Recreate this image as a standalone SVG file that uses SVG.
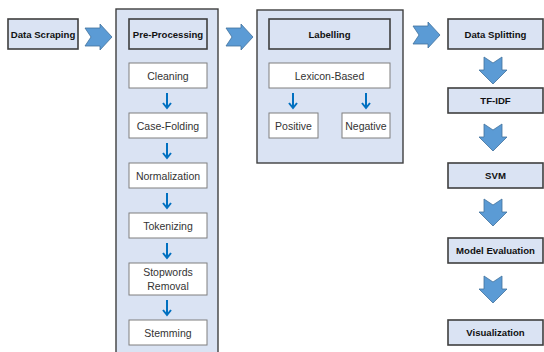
<svg xmlns="http://www.w3.org/2000/svg" width="544" height="352" viewBox="0 0 544 352">
<style>
.bg{fill:#ffffff}
.main{fill:#dae3f3;stroke:#3f3f3f;stroke-width:1.6}
.panel{fill:#dae3f3;stroke:#3f3f3f;stroke-width:1.4}
.sub{fill:#ffffff;stroke:#7f7f7f;stroke-width:1}
.b{font-family:"Liberation Sans",Arial,sans-serif;font-weight:bold;font-size:9.6px;fill:#111;text-anchor:middle;dominant-baseline:central}
.t{font-family:"Liberation Sans",Arial,sans-serif;font-size:10.5px;fill:#333;text-anchor:middle;dominant-baseline:central}
.big{fill:#5b9bd5;stroke:#41719c;stroke-width:0.8}
.small{fill:none;stroke:#0070c0;stroke-width:2}
</style>
<rect class="bg" width="544" height="352"/>
<g id="data-scraping"><rect class="main" x="8" y="19" width="70" height="30"/><text class="b" x="43" y="34">Data Scraping</text></g>
<g id="pre-processing-panel"><rect class="panel" x="116" y="9" width="102" height="350"/></g>
<g id="pre-processing"><rect class="main" x="129" y="19" width="78" height="30"/><text class="b" x="168" y="34">Pre-Processing</text></g>
<g id="cleaning"><rect class="sub" x="129" y="63" width="78" height="25"/><text class="t" x="168" y="75.5">Cleaning</text></g>
<g id="case-folding"><rect class="sub" x="129" y="113" width="78" height="25"/><text class="t" x="168" y="125.5">Case-Folding</text></g>
<g id="normalization"><rect class="sub" x="129" y="163" width="78" height="25"/><text class="t" x="168" y="175.5">Normalization</text></g>
<g id="tokenizing"><rect class="sub" x="129" y="213" width="78" height="25"/><text class="t" x="168" y="225.5">Tokenizing</text></g>
<g id="stopwords-removal"><rect class="sub" x="129" y="263" width="78" height="32"/><text class="t" x="168" y="272">Stopwords</text><text class="t" x="168" y="286">Removal</text></g>
<g id="stemming"><rect class="sub" x="129" y="320" width="78" height="25"/><text class="t" x="168" y="332.5">Stemming</text></g>
<g id="labelling-panel"><rect class="panel" x="257" y="10" width="146" height="153"/></g>
<g id="labelling"><rect class="main" x="269" y="19" width="121" height="30"/><text class="b" x="329.5" y="34">Labelling</text></g>
<g id="lexicon-based"><rect class="sub" x="269" y="63" width="121" height="25"/><text class="t" x="329.5" y="75.5">Lexicon-Based</text></g>
<g id="positive"><rect class="sub" x="269" y="113" width="49" height="25"/><text class="t" x="293.5" y="125.5">Positive</text></g>
<g id="negative"><rect class="sub" x="342" y="113" width="48" height="25"/><text class="t" x="366" y="125.5">Negative</text></g>
<g id="data-splitting"><rect class="main" x="448" y="19" width="95" height="30"/><text class="b" x="495.5" y="34">Data Splitting</text></g>
<g id="tf-idf"><rect class="main" x="448" y="88" width="95" height="25"/><text class="b" x="495.5" y="100.5">TF-IDF</text></g>
<g id="svm"><rect class="main" x="448" y="163" width="95" height="25"/><text class="b" x="495.5" y="175.5">SVM</text></g>
<g id="model-evaluation"><rect class="main" x="448" y="238" width="95" height="25"/><text class="b" x="495.5" y="250.5">Model Evaluation</text></g>
<g id="visualization"><rect class="main" x="448" y="320" width="95" height="25"/><text class="b" x="495.5" y="332.5">Visualization</text></g>
<g id="connectors">
<polygon class="big" points="85,28 100,28 100,24 112,37 100,50 100,46 85,46 91,37"/>
<polygon class="big" points="226,28 241,28 241,24 253,37 241,50 241,46 226,46 232,37"/>
<polygon class="big" points="413,26 428,26 428,22 440,35 428,48 428,44 413,44 419,35"/>
<polygon class="big" points="484,57 493,63 502,57 502,70 507,70 493,84 479,70 484,70"/>
<polygon class="big" points="484,124 493,130 502,124 502,137 507,137 493,151 479,137 484,137"/>
<polygon class="big" points="484,199 493,205 502,199 502,212 507,212 493,226 479,212 484,212"/>
<polygon class="big" points="484,276 493,282 502,276 502,289 507,289 493,303 479,289 484,289"/>
<g class="small">
<path d="M167,93 V108 M163,103 L167,108 L171,103"/>
<path d="M167,143 V158 M163,153 L167,158 L171,153"/>
<path d="M167,193 V208 M163,203 L167,208 L171,203"/>
<path d="M167,243 V258 M163,253 L167,258 L171,253"/>
<path d="M167,300 V315 M163,310 L167,315 L171,310"/>
<path d="M293,93 V108 M289,103 L293,108 L297,103"/>
<path d="M366,93 V108 M362,103 L366,108 L370,103"/>
</g>
</g>
</svg>
